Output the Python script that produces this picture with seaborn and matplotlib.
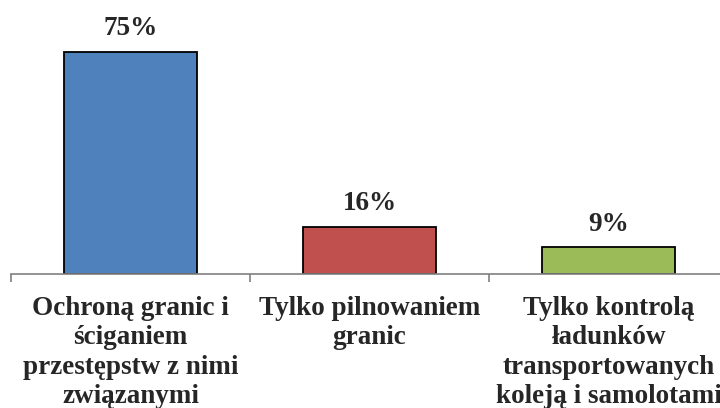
import matplotlib
matplotlib.use("Agg")
import matplotlib.pyplot as plt
import seaborn as sns
import pandas as pd
from matplotlib.ticker import FixedLocator

categories = [
    "Ochroną granic i\nściganiem\nprzestępstw z nimi\nzwiązanymi",
    "Tylko pilnowaniem\ngranic",
    "Tylko kontrolą\nładunków\ntransportowanych\nkoleją i samolotami",
]
values = [75, 16, 9]
labels = ["75%", "16%", "9%"]
colors = ["#4F81BD", "#C0504D", "#9BBB59"]

sns.set_style("white")
plt.rcParams["font.family"] = ["Liberation Serif", "DejaVu Serif"]

fig = plt.figure(figsize=(7.2, 4.08), dpi=100)
ax = fig.add_axes([11 / 720, 134 / 408, 717 / 720, 237 / 408])

df = pd.DataFrame({"cat": categories, "val": values})
sns.barplot(data=df, x="cat", y="val", hue="cat", palette=colors, width=0.556,
            edgecolor="black", linewidth=1.3, legend=False, ax=ax, saturation=1)

ax.set_xlim(-0.5, 2.5)
ax.set_ylim(0, 80)
ax.set_xlabel("")
ax.set_ylabel("")
ax.set_yticks([])
for s in ["top", "left", "right"]:
    ax.spines[s].set_visible(False)
ax.spines["bottom"].set_color("#808080")
ax.spines["bottom"].set_linewidth(1.2)

ax.set_xticks(range(len(categories)))
ax.set_xticklabels(categories, fontsize=19.5, fontweight="bold", linespacing=1.22)
ax.tick_params(axis="x", which="major", length=0, pad=16, bottom=True)
ax.xaxis.set_minor_locator(FixedLocator([-0.5, 0.5, 1.5, 2.5]))
ax.tick_params(axis="x", which="minor", length=6, width=1.2, color="#808080",
               direction="out", bottom=True)

for i, (v, lab) in enumerate(zip(values, labels)):
    ax.annotate(lab, (i, v), xytext=(0, 12), textcoords="offset points",
                ha="center", va="baseline", fontsize=19.5, fontweight="bold")

fig.savefig("out.png", dpi=100)
